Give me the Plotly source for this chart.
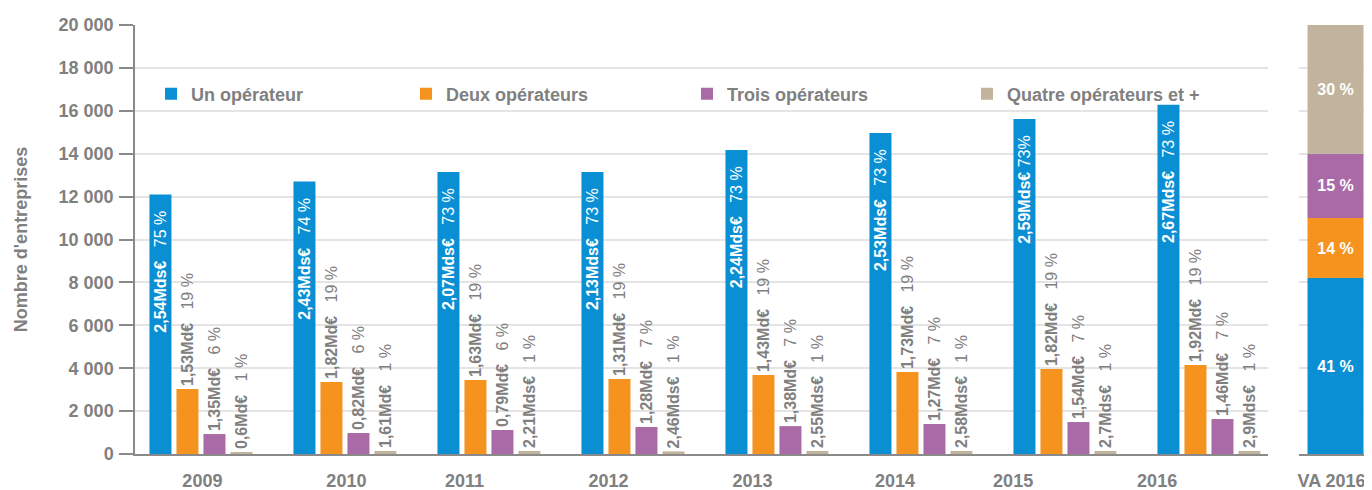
import plotly.graph_objects as go
import numpy as np

# ---------------- data ----------------
years = ["2009", "2010", "2011", "2012", "2013", "2014", "2015", "2016"]
series_names = ["Un opérateur", "Deux opérateurs", "Trois opérateurs", "Quatre opérateurs et +"]

un = [12100, 12700, 13150, 13150, 14170, 14970, 15620, 16280]
deux = [3030, 3360, 3450, 3500, 3680, 3820, 3960, 4150]
trois = [930, 980, 1120, 1260, 1300, 1400, 1490, 1630]
quatre = [60, 140, 140, 120, 140, 140, 140, 140]

un_va = ["2,54Mds€", "2,43Mds€", "2,07Mds€", "2,13Mds€", "2,24Mds€", "2,53Mds€", "2,59Mds€", "2,67Mds€"]
un_pct = ["75 %", "74 %", "73 %", "73 %", "73 %", "73 %", "73%", "73 %"]
deux_va = ["1,53Md€", "1,82Md€", "1,63Md€", "1,31Md€", "1,43Md€", "1,73Md€", "1,82Md€", "1,92Md€"]
deux_pct = ["19 %"] * 8
trois_va = ["1,35Md€", "0,82Md€", "0,79Md€", "1,28Md€", "1,38Md€", "1,27Md€", "1,54Md€", "1,46Md€"]
trois_pct = ["6 %", "6 %", "6 %", "7 %", "7 %", "7 %", "7 %", "7 %"]
quatre_va = ["0,6Md€", "1,61Md€", "2,21Mds€", "2,46Mds€", "2,55Mds€", "2,58Mds€", "2,7Mds€", "2,9Mds€"]
quatre_pct = ["1 %"] * 8

va_category = "VA 2016"
va_share = [41, 14, 15, 30]

colors = ["#0a8fd4", "#f6921e", "#a96aa5", "#c2b49c"]
gray = "#808080"
font_family = "Liberation Sans, Arial, sans-serif"

# ---------------- geometry (page pixels; page body has an 8px margin) ----------------
OFF = 8
W, H = 1372 - OFF, 490 - OFF
ML, MT, MB = 135 - OFF, 25 - OFF, 36
MR = 0
PW, PH = W - ML - MR, H - MT - MB


def px_x(p):
    return (p - OFF - ML) / PW


def px_y(p):
    return (H - MB - (p - OFF)) / PH


xidx = list(range(len(years)))
fig = go.Figure()

all_vals = [un, deux, trois, quatre]
all_va = [un_va, deux_va, trois_va, quatre_va]
all_pct = [un_pct, deux_pct, trois_pct, quatre_pct]
legend_ids = ["legend", "legend2", "legend3", "legend4"]

for i in range(4):
    if i == 0:
        texts = []
        for v, p in zip(all_va[i], all_pct[i]):
            gap = "\u00a0" if " " not in p else "\u00a0\u00a0\u00a0"
            texts.append(f"<b>{v}</b>{gap}{p}\u00a0\u00a0\u00a0")
        fig.add_trace(go.Bar(
            x=xidx, y=all_vals[i], name=series_names[i], marker=dict(color=colors[i], line=dict(width=0)),
            text=texts, textposition="inside", insidetextanchor="end", textangle=-90,
            textfont=dict(color="white", size=16, family=font_family),
            constraintext="none", legend=legend_ids[i], xaxis="x", yaxis="y", hoverinfo="skip",
        ))
    else:
        texts = [f"<b>{v}</b>\u00a0\u00a0\u00a0{p}" for v, p in zip(all_va[i], all_pct[i])]
        fig.add_trace(go.Bar(
            x=xidx, y=all_vals[i], name=series_names[i], marker=dict(color=colors[i], line=dict(width=0)),
            text=texts, textposition="outside", textangle=-90,
            textfont=dict(color=gray, size=16, family=font_family),
            constraintext="none", cliponaxis=False, legend=legend_ids[i], xaxis="x", yaxis="y", hoverinfo="skip",
        ))

# VA 2016 stacked bar (stacked through base)
bases = np.concatenate([[0], np.cumsum(va_share)[:-1]])
for i in range(4):
    fig.add_trace(go.Bar(
        x=[0], y=[va_share[i]], base=[bases[i]], width=0.767, offset=-0.3835,
        marker=dict(color=colors[i], line=dict(width=0)),
        text=[f"<b>{va_share[i]} %</b>"], textposition="inside", insidetextanchor="middle", textangle=0,
        textfont=dict(color="white", size=16, family=font_family),
        constraintext="none", showlegend=False, xaxis="x2", yaxis="y2", hoverinfo="skip",
    ))

left_end = px_x(1268)
right_start = px_x(1299)

# label positions along the category axis (as in the original layout)
tick_shift = [0.01, 1.01, 1.83, 2.83, 3.83, 4.82, 5.64, 6.64]

tickfont = dict(family=font_family, size=18, color=gray, weight="bold")

legend_text_starts = [191, 446, 727, 1007]
legend_common = dict(orientation="h", yanchor="middle", xanchor="left", bgcolor="rgba(0,0,0,0)",
                     font=dict(family=font_family, size=18, color=gray, weight="bold"),
                     itemwidth=30, itemclick=False, itemdoubleclick=False, borderwidth=0)
legends = {}
for i, lid in enumerate(legend_ids):
    legends[lid] = dict(x=px_x(legend_text_starts[i] - 40), y=px_y(94), **legend_common)

fig.update_layout(
    width=W, height=H,
    margin=dict(l=ML, r=MR, t=MT, b=MB, autoexpand=False),
    paper_bgcolor="white", plot_bgcolor="white",
    barmode="group", bargap=0.25, bargroupgap=0.185,
    separators=", ",
    font=dict(family=font_family, color=gray),
    xaxis=dict(
        domain=[0, left_end], range=[-0.458, 7.41], type="linear",
        tickvals=tick_shift, ticktext=years, tickfont=tickfont,
        ticks="outside", ticklen=10, tickcolor="rgba(0,0,0,0)",
        showgrid=False, zeroline=False, showline=True, linecolor="#8a8a8a", linewidth=1.5,
        automargin=False, fixedrange=True,
    ),
    yaxis=dict(
        domain=[0, 1], range=[0, 20000], dtick=2000, tickformat=",d",
        tickfont=tickfont, ticks="outside", ticklen=14, tickcolor="#8a8a8a", tickwidth=1.5,
        ticklabelstandoff=2,
        showgrid=True, gridcolor="#e4e4e4", gridwidth=1.5,
        zeroline=False, showline=True, linecolor="#8a8a8a", linewidth=1.5,
        title=dict(text="Nombre d'entreprises", font=dict(family=font_family, size=18, color=gray, weight="bold"),
                   standoff=26),
        automargin=False, fixedrange=True,
    ),
    xaxis2=dict(
        domain=[right_start, 1], range=[-0.5, 0.5], type="linear", anchor="y2",
        tickvals=[0], ticktext=[va_category], tickfont=tickfont,
        ticks="outside", ticklen=10, tickcolor="rgba(0,0,0,0)", ticklabelshift=-4,
        showgrid=False, zeroline=False, showline=True, linecolor="#8a8a8a", linewidth=1.5,
        automargin=False, fixedrange=True,
    ),
    yaxis2=dict(
        domain=[0, 1], range=[0, 100], dtick=10, anchor="x2",
        showticklabels=False, ticks="",
        showgrid=True, gridcolor="#e4e4e4", gridwidth=1.5,
        zeroline=False, showline=False, automargin=False, fixedrange=True,
    ),
    **legends,
)

fig.write_html("out.html")
